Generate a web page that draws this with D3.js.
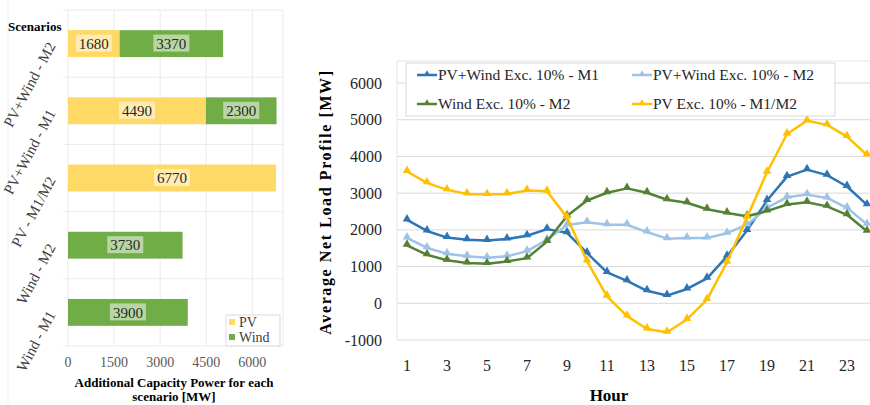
<!DOCTYPE html>
<html>
<head>
<meta charset="utf-8">
<script src="https://cdn.jsdelivr.net/npm/d3@7"></script>
<style>
  body { margin:0; background:white; }
  text { font-family: 'Liberation Serif', 'Times New Roman', serif; }
</style>
</head>
<body>
<svg id="chart" width="870" height="405"></svg>
<script>
// ---- left chart data ----
var scenarios = ["PV+Wind - M2", "PV+Wind - M1", "PV - M1/M2", "Wind - M2", "Wind - M1"];
var pvCap   = [1680, 4490, 6770, 0, 0];
var windCap = [3370, 2300, 0, 3730, 3900];
var capTicks = [0, 1500, 3000, 4500, 6000];

// ---- right chart data ----
var hours = d3.range(1, 25);
var hourTicks = [1, 3, 5, 7, 9, 11, 13, 15, 17, 19, 21, 23];
var loadTicks = [-1000, 0, 1000, 2000, 3000, 4000, 5000, 6000];
var pvWindM1 = [2270, 1970, 1790, 1730, 1710, 1750, 1840, 2020, 1920, 1370, 840, 610,
                340, 210, 390, 680, 1280, 1980, 2800, 3450, 3640, 3490, 3180, 2680];
var pvWindM2 = [1780, 1510, 1350, 1280, 1240, 1280, 1420, 1730, 2130, 2210, 2140, 2140,
                1940, 1760, 1780, 1780, 1910, 2140, 2600, 2890, 2960, 2870, 2600, 2150];
var windM2   = [1580, 1320, 1170, 1100, 1080, 1140, 1230, 1680, 2380, 2800, 3010, 3130,
                3010, 2820, 2740, 2560, 2460, 2370, 2510, 2690, 2750, 2640, 2410, 1960];
var pvM1M2   = [3590, 3280, 3090, 2980, 2960, 2980, 3070, 3050, 2340, 1150, 190, -350,
                -700, -790, -440, 100, 1120, 2340, 3570, 4610, 4970, 4860, 4540, 4040];

var seriesNames = ["PV+Wind Exc. 10% - M1", "PV+Wind Exc. 10% - M2", "Wind Exc. 10% - M2", "PV Exc. 10% - M1/M2"];
var seriesVals = [pvWindM1, pvWindM2, windM2, pvM1M2];
var seriesColors = ["#2e75b6", "#9dc3e6", "#548235", "#ffc000"];

var svg = d3.select("#chart");
var grid = "#d9d9d9";

// ================= LEFT: stacked bars =================
var xCap = d3.scaleLinear().domain([0, 7000]).range([68, 283]);
var yScen = d3.scaleBand().domain(scenarios).range([10, 346]);
var barH = yScen.bandwidth() * 0.4;

svg.append("line").attr("x1", 8).attr("x2", 8).attr("y1", 0).attr("y2", 405)
   .style("stroke", "#eeeeee");

var left = svg.append("g");
// vertical gridlines
left.selectAll(".vg").data(capTicks.concat([7000])).enter().append("line")
  .attr("x1", d => xCap(d)).attr("x2", d => xCap(d))
  .attr("y1", 10).attr("y2", 346)
  .style("stroke", "#eaeaea");
// horizontal band lines
left.selectAll(".hg").data(d3.range(scenarios.length + 1)).enter().append("line")
  .attr("x1", 63).attr("x2", 283)
  .attr("y1", i => 10 + i * yScen.step()).attr("y2", i => 10 + i * yScen.step())
  .style("stroke", "#eaeaea");

var segs = [];
scenarios.forEach(function(s, i) {
  if (pvCap[i] > 0) segs.push({s: s, x0: 0, v: pvCap[i], c: "#ffd966"});
  if (windCap[i] > 0) segs.push({s: s, x0: pvCap[i], v: windCap[i], c: "#70ad47"});
});

left.selectAll(".bar").data(segs).enter().append("rect")
  .attr("x", d => xCap(d.x0))
  .attr("width", d => xCap(d.x0 + d.v) - xCap(d.x0))
  .attr("y", d => yScen(d.s) + yScen.bandwidth() / 2 - barH / 2)
  .attr("height", barH)
  .style("fill", d => d.c);

var lab = left.selectAll(".vl").data(segs).enter().append("g")
  .attr("transform", d => "translate(" + xCap(d.x0 + d.v / 2) + "," + (yScen(d.s) + yScen.bandwidth() / 2) + ")");
lab.append("rect").attr("class", "bg");
lab.append("text")
  .attr("text-anchor", "middle").attr("dy", "0.35em")
  .style("font-size", "15px").style("fill", "#262626")
  .text(d => d.v);
lab.each(function() {
  var t = d3.select(this).select("text").node();
  var w = t.getComputedTextLength();
  d3.select(this).select("rect")
    .attr("x", -w / 2 - 3).attr("y", -9).attr("width", w + 6).attr("height", 17)
    .style("fill", "white").style("opacity", 0.5);
});

// scenario labels
left.selectAll(".sl").data(scenarios).enter().append("text")
  .attr("transform", d => "translate(56," + (yScen(d) + yScen.bandwidth() / 2 + 2) + ") rotate(-62)")
  .attr("text-anchor", "end")
  .style("font-size", "15px").style("fill", "#404040")
  .text(d => d);

svg.append("text").attr("x", 8).attr("y", 31)
  .style("font-size", "13px").style("font-weight", "bold").text("Scenarios");

// x axis ticks
left.selectAll(".xt").data(capTicks).enter().append("text")
  .attr("x", d => xCap(d)).attr("y", 367)
  .attr("text-anchor", "middle")
  .style("font-size", "14px").style("fill", "#595959")
  .text(d => d);

left.append("text").attr("x", 174).attr("y", 387).attr("text-anchor", "middle")
  .style("font-size", "13px").style("font-weight", "bold")
  .text("Additional Capacity Power for each");
left.append("text").attr("x", 174).attr("y", 401).attr("text-anchor", "middle")
  .style("font-size", "13px").style("font-weight", "bold")
  .text("scenario [MW]");

// left legend
var ll = left.append("g").attr("transform", "translate(226,315)");
ll.append("rect").attr("width", 54).attr("height", 31)
  .style("fill", "white").style("stroke", "#d9d9d9");
[["PV", "#ffd966"], ["Wind", "#70ad47"]].forEach(function(e, i) {
  ll.append("rect").attr("x", 3).attr("y", 4 + i * 15).attr("width", 6).attr("height", 6).style("fill", e[1]);
  ll.append("text").attr("x", 13).attr("y", 12 + i * 15)
    .style("font-size", "14px").style("fill", "#404040").text(e[0]);
});

// ================= RIGHT: line chart =================
var xH = d3.scaleLinear().domain([1, 24]).range([407, 867]);
var yL = d3.scaleLinear().domain([-1000, 6000]).range([340, 83]);
var right = svg.append("g");

right.selectAll(".hg").data(loadTicks).enter().append("line")
  .attr("x1", 397).attr("x2", 870)
  .attr("y1", d => yL(d)).attr("y2", d => yL(d))
  .style("stroke", grid);
right.append("line").attr("x1", 397).attr("x2", 870).attr("y1", yL(6600)).attr("y2", yL(6600)).style("stroke", "#e6e6e6");
right.append("line").attr("x1", 397).attr("x2", 397).attr("y1", yL(6600)).attr("y2", yL(-1000)).style("stroke", "#e6e6e6");

right.selectAll(".yt").data(loadTicks).enter().append("text")
  .attr("x", 382).attr("y", d => yL(d)).attr("dy", "0.35em")
  .attr("text-anchor", "end").style("font-size", "16px").style("fill", "#262626")
  .text(d => d);
right.selectAll(".xt").data(hourTicks).enter().append("text")
  .attr("x", d => xH(d)).attr("y", 371)
  .attr("text-anchor", "middle").style("font-size", "16px").style("fill", "#262626")
  .text(d => d);

right.append("text").attr("transform", "translate(331,202) rotate(-90)")
  .attr("text-anchor", "middle")
  .style("font-size", "16px").style("font-weight", "bold").style("letter-spacing", "1.6px")
  .text("Average Net Load Profile [MW]");
right.append("text").attr("x", 609).attr("y", 401).attr("text-anchor", "middle")
  .style("font-size", "17px").style("font-weight", "bold").text("Hour");

var tri = d3.symbol().type(d3.symbolTriangle).size(32);
var line = d3.line().x((d, i) => xH(hours[i])).y(d => yL(d));

seriesVals.forEach(function(vals, k) {
  var g = right.append("g");
  g.append("path").datum(vals).attr("d", line)
    .style("fill", "none").style("stroke", seriesColors[k]).style("stroke-width", 2.5)
    .style("stroke-linejoin", "round");
  g.selectAll("path.m").data(vals).enter().append("path").attr("class", "m")
    .attr("d", tri)
    .attr("transform", (d, i) => "translate(" + xH(hours[i]) + "," + (yL(d) - 1) + ")")
    .style("fill", seriesColors[k]);
});

// right legend
var lg = right.append("g").attr("transform", "translate(406,63)");
lg.append("rect").attr("width", 429).attr("height", 53)
  .style("fill", "white").style("stroke", "#d9d9d9");
var legPos = [[11, 12], [226, 12], [11, 41], [226, 41]];
seriesNames.forEach(function(n, k) {
  var p = legPos[k];
  lg.append("line").attr("x1", p[0]).attr("x2", p[0] + 20).attr("y1", p[1]).attr("y2", p[1])
    .style("stroke", seriesColors[k]).style("stroke-width", 2.5);
  lg.append("path").attr("d", d3.symbol().type(d3.symbolTriangle).size(18))
    .attr("transform", "translate(" + (p[0] + 10) + "," + (p[1] - 1) + ")")
    .style("fill", seriesColors[k]);
  lg.append("text").attr("x", p[0] + 21).attr("y", p[1]).attr("dy", "0.35em")
    .style("font-size", "15.5px").style("fill", "#262626").text(n);
});
</script>
</body>
</html>
